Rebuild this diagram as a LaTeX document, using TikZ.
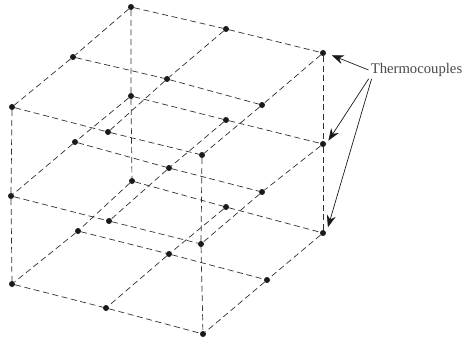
\documentclass[tikz,border=0pt]{standalone}
\usepackage{fontspec}
\setmainfont{Liberation Serif}
\usetikzlibrary{arrows.meta}
\usepackage{xcolor}
\definecolor{inkblack}{HTML}{1A1A1A}
\begin{document}
\begin{tikzpicture}[x=1pt, y=-1pt, every node/.style={circle, fill=inkblack, inner sep=0pt, minimum size=6pt},
    wire/.style={dashed, dash pattern=on 6pt off 3.6pt, line width=0.7pt, draw=inkblack!90},
    pointer/.style={-{Stealth[length=12pt, width=9pt]}, line width=0.7pt, draw=inkblack, shorten >=4pt}]
    \useasboundingbox (0,0) rectangle (463,340);
    % top layer
    \node (t00) at (131,7) {};
    \node (t01) at (226,29) {};
    \node (t02) at (323,53) {};
    \node (t10) at (73,57) {};
    \node (t11) at (167,79) {};
    \node (t12) at (262,105) {};
    \node (t20) at (12,107) {};
    \node (t21) at (108,132) {};
    \node (t22) at (202,155) {};
    % middle layer
    \node (m00) at (131,96) {};
    \node (m01) at (226,120) {};
    \node (m02) at (323,144) {};
    \node (m10) at (75,142) {};
    \node (m11) at (169,168) {};
    \node (m12) at (262,192) {};
    \node (m20) at (11,196) {};
    \node (m21) at (109,221) {};
    \node (m22) at (201,244) {};
    % bottom layer
    \node (b00) at (132,181) {};
    \node (b01) at (226,207) {};
    \node (b02) at (323,233) {};
    \node (b10) at (78,231) {};
    \node (b11) at (169,254) {};
    \node (b12) at (267,280) {};
    \node (b20) at (12,284) {};
    \node (b21) at (106,308) {};
    \node (b22) at (203,334) {};
    \node[rectangle, fill=none, text=inkblack!80, inner sep=2pt, font=\fontsize{14.7}{16}\selectfont] (label) at (416.5,70) {Thermocouples};
        \draw[wire] (t00) -- (t01) -- (t02);
        \draw[wire] (t10) -- (t11) -- (t12);
        \draw[wire] (t20) -- (t21) -- (t22);
        \draw[wire] (t00) -- (t10) -- (t20);
        \draw[wire] (t01) -- (t11) -- (t21);
        \draw[wire] (t02) -- (t12) -- (t22);
        \draw[wire] (m00) -- (m01) -- (m02);
        \draw[wire] (m10) -- (m11) -- (m12);
        \draw[wire] (m20) -- (m21) -- (m22);
        \draw[wire] (m00) -- (m10) -- (m20);
        \draw[wire] (m01) -- (m11) -- (m21);
        \draw[wire] (m02) -- (m12) -- (m22);
        \draw[wire] (b00) -- (b01) -- (b02);
        \draw[wire] (b10) -- (b11) -- (b12);
        \draw[wire] (b20) -- (b21) -- (b22);
        \draw[wire] (b00) -- (b10) -- (b20);
        \draw[wire] (b01) -- (b11) -- (b21);
        \draw[wire] (b02) -- (b12) -- (b22);
        \draw[wire] (t00) -- (m00) -- (b00);
        \draw[wire] (t02) -- (m02) -- (b02);
        \draw[wire] (t20) -- (m20) -- (b20);
        \draw[wire] (t22) -- (m22) -- (b22);
        \draw[pointer, shorten >=6pt] (label.west) -- (t02.east);
        \draw[pointer] (label.south west) -- (m02.east);
        \draw[pointer, shorten >=6pt] ([xshift=3pt]label.south west) -- (b02.east);
\end{tikzpicture}
\end{document}
